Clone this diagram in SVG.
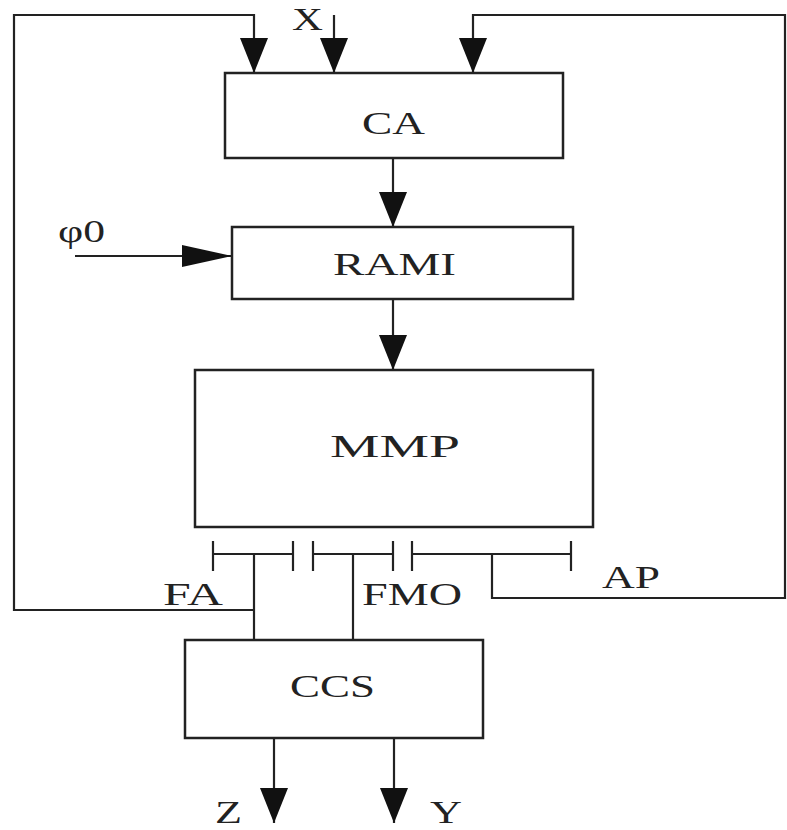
<svg xmlns="http://www.w3.org/2000/svg" width="787" height="830" viewBox="0 0 787 830">
<style>
.box{fill:#fff;stroke:#222;stroke-width:2.5}
.ln{fill:none;stroke:#222;stroke-width:2.2}
.t{font-family:"Liberation Serif","Times New Roman",serif;font-size:31px;fill:#222}
</style>
<defs>
<marker id="av" markerUnits="userSpaceOnUse" markerWidth="36" markerHeight="30" refX="35" refY="14" orient="auto">
<path d="M0,0 L35,14 L0,28 z" fill="#111"/>
</marker>
<marker id="ah" markerUnits="userSpaceOnUse" markerWidth="52" markerHeight="24" refX="50" refY="11" orient="auto">
<path d="M0,0 L50,11 L0,22 z" fill="#111"/>
</marker>
</defs>
<rect width="787" height="830" fill="#fff"/>
<g id="connectors">
<polyline class="ln" points="254,610 14,610 14,15 254,15 254,73" marker-end="url(#av)"/>
<line class="ln" x1="334" y1="15" x2="334" y2="73" marker-end="url(#av)"/>
<polyline class="ln" points="492,554 492,598 785,598 785,15 473,15 473,73" marker-end="url(#av)"/>
<line class="ln" x1="393" y1="158" x2="393" y2="227" marker-end="url(#av)"/>
<line class="ln" x1="75" y1="256" x2="232" y2="256" marker-end="url(#ah)"/>
<line class="ln" x1="393" y1="299" x2="393" y2="370" marker-end="url(#av)"/>
<g id="bus">
<path class="ln" d="M213,554 H293 M213,541 V571 M293,541 V571 M313,554 H393 M313,541 V571 M393,541 V571 M412,554 H571 M412,541 V571 M571,541 V571"/>
</g>
<line class="ln" x1="254" y1="554" x2="254" y2="640"/>
<line class="ln" x1="353" y1="554" x2="353" y2="640"/>
<line class="ln" x1="274" y1="738" x2="274" y2="823" marker-end="url(#av)"/>
<line class="ln" x1="394" y1="738" x2="394" y2="823" marker-end="url(#av)"/>
</g>
<g id="node-CA">
<rect class="box" x="225" y="73" width="338" height="85"/>
<text class="t" x="362" y="134" textLength="63" lengthAdjust="spacingAndGlyphs">CA</text>
</g>
<g id="node-RAMI">
<rect class="box" x="232" y="227" width="341" height="72"/>
<text class="t" x="333" y="275" textLength="123" lengthAdjust="spacingAndGlyphs">RAMI</text>
</g>
<g id="node-MMP">
<rect class="box" x="195" y="370" width="398" height="157"/>
<text class="t" x="330" y="457" textLength="130" lengthAdjust="spacingAndGlyphs">MMP</text>
</g>
<g id="node-CCS">
<rect class="box" x="185" y="640" width="298" height="98"/>
<text class="t" x="290" y="697" textLength="85" lengthAdjust="spacingAndGlyphs">CCS</text>
</g>
<g id="labels">
<text class="t" x="292" y="30" textLength="31" lengthAdjust="spacingAndGlyphs">X</text>
<text class="t" x="58" y="242" textLength="47" lengthAdjust="spacingAndGlyphs">φ0</text>
<text class="t" x="163" y="605" textLength="60" lengthAdjust="spacingAndGlyphs">FA</text>
<text class="t" x="362" y="605" textLength="100" lengthAdjust="spacingAndGlyphs">FMO</text>
<text class="t" x="602" y="588" textLength="58" lengthAdjust="spacingAndGlyphs">AP</text>
<text class="t" x="215" y="823" textLength="27" lengthAdjust="spacingAndGlyphs">Z</text>
<text class="t" x="430" y="823" textLength="32" lengthAdjust="spacingAndGlyphs">Y</text>
</g>
</svg>
